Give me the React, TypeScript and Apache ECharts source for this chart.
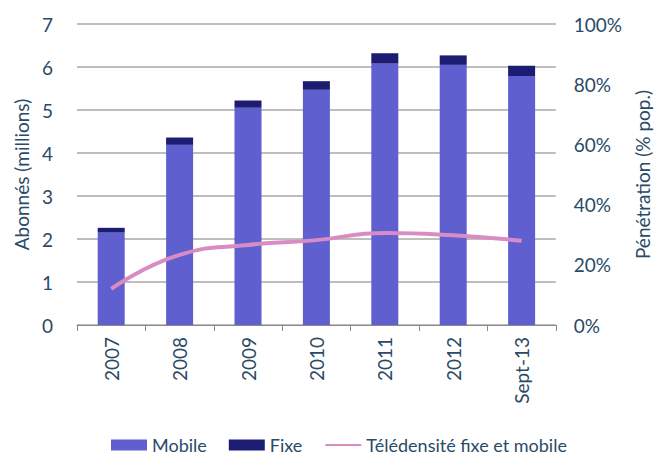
import React, { useEffect, useRef } from "react";
import * as echarts from "echarts";

const categories = ["2007", "2008", "2009", "2010", "2011", "2012", "Sept-13"];
const mobile = [2.15, 4.19, 5.05, 5.47, 6.08, 6.05, 5.79];
const fixe = [0.11, 0.17, 0.17, 0.2, 0.24, 0.22, 0.24];
const teledensite = [12, 23.3, 26.6, 28.2, 30.6, 29.8, 28];

const textColor = "#2a4a66";
const font = "Lato";

export default function App() {
  const ref = useRef<HTMLDivElement>(null);
  useEffect(() => {
    if (!ref.current) return;
    const chart = echarts.init(ref.current, null, { renderer: "svg" });
    chart.setOption({
      animation: false,
      textStyle: { fontFamily: font },
      grid: { left: 77, right: 103, top: 24, bottom: 137 },
      legend: {
        bottom: 3,
        left: 106,
        itemWidth: 36,
        itemHeight: 11,
        itemGap: 22,
        textStyle: { color: textColor, fontSize: 18, fontFamily: font },
        data: [
          { name: "Mobile", icon: "rect" },
          { name: "Fixe", icon: "rect" },
          { name: "Télédensité fixe et mobile", itemStyle: { opacity: 0 } },
        ],
      },
      xAxis: {
        type: "category",
        data: categories,
        axisLine: { lineStyle: { color: "#8a8a8a", width: 1 } },
        axisTick: { show: true, length: 6, lineStyle: { color: "#8a8a8a" } },
        axisLabel: { rotate: 90, color: textColor, fontSize: 19, margin: 12, fontFamily: font },
      },
      yAxis: [
        {
          type: "value",
          min: 0,
          max: 7,
          interval: 1,
          name: "Abonnés (millions)",
          nameLocation: "middle",
          nameGap: 42,
          nameRotate: 90,
          nameTextStyle: { color: textColor, fontSize: 19, fontFamily: font },
          axisLabel: { color: textColor, fontSize: 19, margin: 24, fontFamily: font },
          axisLine: { show: false },
          axisTick: { show: false },
          splitLine: { lineStyle: { color: "#a8a8a8", width: 1.5 } },
        },
        {
          type: "value",
          min: 0,
          max: 100,
          interval: 20,
          name: "Pénétration (% pop.)",
          nameLocation: "middle",
          nameGap: 76,
          nameRotate: 90,
          nameTextStyle: { color: textColor, fontSize: 19, fontFamily: font },
          axisLabel: { color: textColor, fontSize: 19, margin: 18, formatter: "{value}%", fontFamily: font },
          axisLine: { show: false },
          axisTick: { show: false },
          splitLine: { show: false },
        },
      ],
      series: [
        {
          name: "Mobile",
          type: "bar",
          stack: "abonnes",
          data: mobile,
          barWidth: 27,
          itemStyle: { color: "#5f5fd0" },
        },
        {
          name: "Fixe",
          type: "bar",
          stack: "abonnes",
          data: fixe,
          barWidth: 27,
          itemStyle: { color: "#1c1c72" },
        },
        {
          name: "Télédensité fixe et mobile",
          type: "line",
          yAxisIndex: 1,
          data: teledensite,
          smooth: true,
          symbol: "none",
          lineStyle: { color: "#d98cc4", width: 4 },
          itemStyle: { color: "#d98cc4" },
        },
      ],
    });
    return () => chart.dispose();
  }, []);
  return <div ref={ref} style={{ width: 660, height: 462, position: "absolute", left: 0, top: 0 }} />;
}
